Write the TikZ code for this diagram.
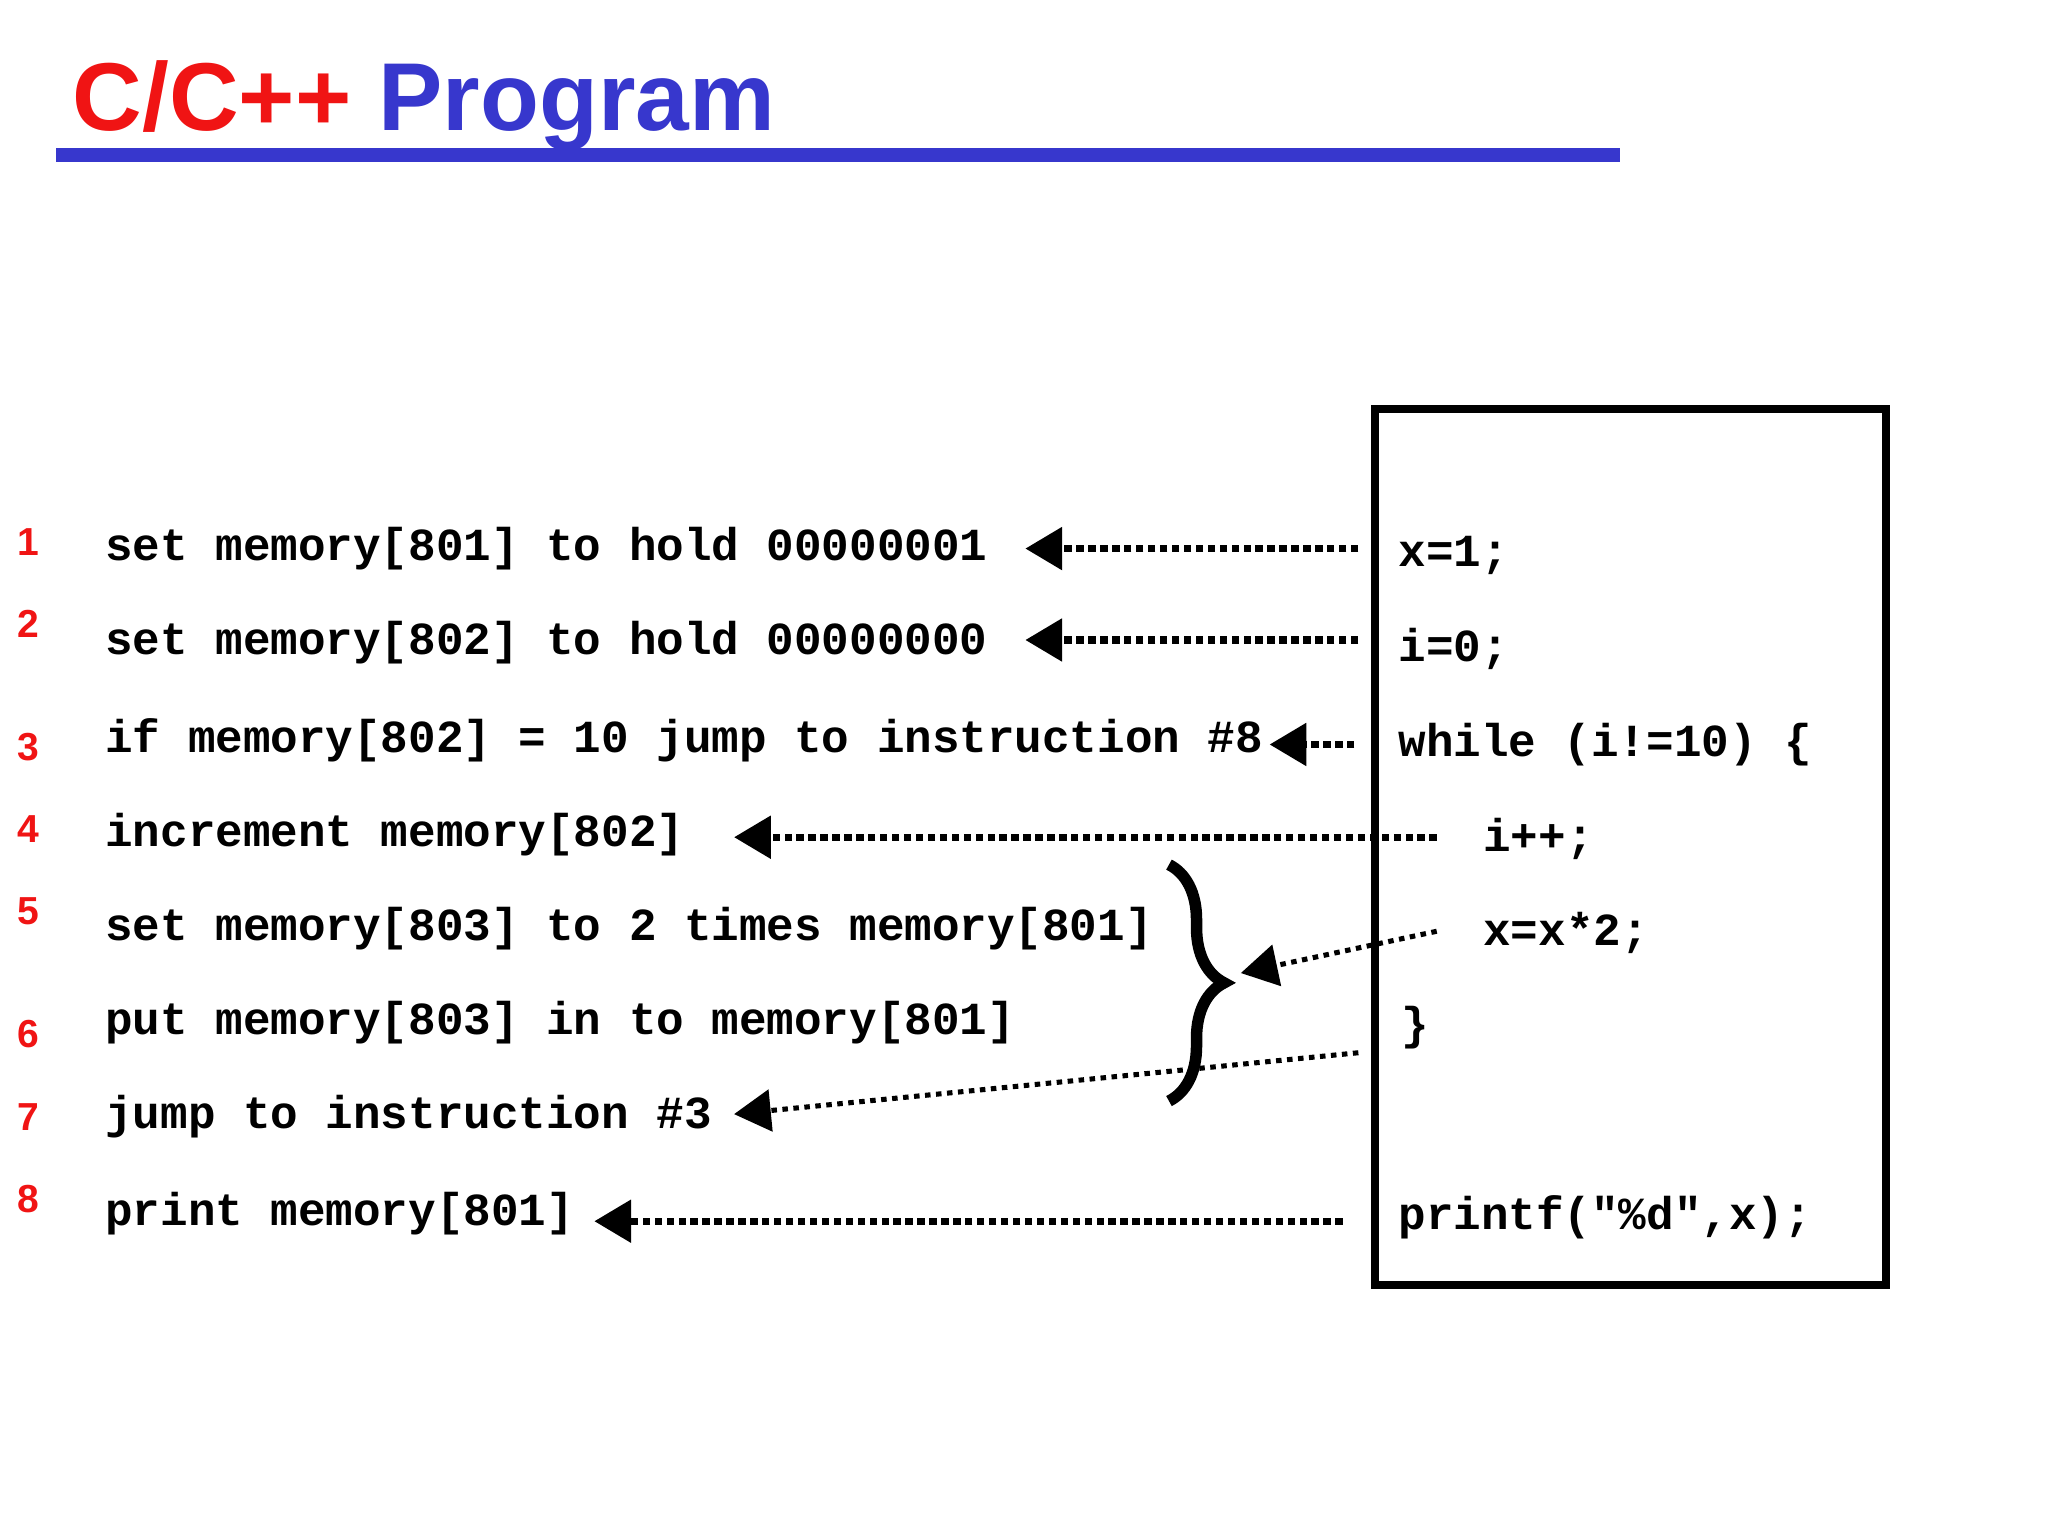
\documentclass[tikz,border=0pt]{standalone}
\usepackage{fontspec}
\setmainfont{Liberation Sans}
\setmonofont{Liberation Mono}
\usetikzlibrary{arrows.meta,decorations.pathreplacing}
\definecolor{titlered}{RGB}{240,20,20}
\definecolor{titleblue}{RGB}{55,55,205}
\tikzset{
  code/.style={anchor=west,inner sep=0pt,font=\fontsize{10pt}{11pt}\ttfamily\bfseries},
  num/.style={inner sep=0pt,text=titlered,font=\fontsize{8.5pt}{9pt}\rmfamily\bfseries},
  dotarrow/.style={line width=1.6pt,dash pattern=on 1.6pt off 1pt,-{Triangle[length=8pt,width=9pt]}},
  thinarrow/.style={line width=1.1pt,dash pattern=on 1.2pt off 1.2pt,-{Triangle[length=8pt,width=9pt]}}
}
\begin{document}
\begin{tikzpicture}[x=0.01cm,y=-0.01cm]
\useasboundingbox (0,0) rectangle (1568,1176);
% Title
\node[anchor=base west,inner sep=0pt,font=\fontsize{21pt}{25pt}\bfseries] (title) at (55,100)
  {\textcolor{titlered}{C/C++} \textcolor{titleblue}{Program}};
\fill[titleblue] (43,113) rectangle (1240,124);

% Source box
\draw[line width=1.8pt] (1053,313) rectangle (1444,984);

% Machine steps
\foreach \n/\y/\ny/\t in {1/420/415/{set memory[801] to hold 00000001},
    2/492/478/{set memory[802] to hold 00000000},
    3/567/572/{if memory[802] = 10 jump to instruction \#8},
    4/639/635/{increment memory[802]},
    5/711/698/{set memory[803] to 2 times memory[801]},
    6/783/792/{put memory[803] in to memory[801]},
    7/855/855/{jump to instruction \#3},
    8/929/918/{print memory[801]}}{
  \node[num] (n\n) at (22,\ny) {\n};
  \node[code] (s\n) at (80,\y) {\t};
}

% C source lines
\node[code] (c1) at (1070,425) {x=1;};
\node[code] (c2) at (1070,497) {i=0;};
\node[code] (c3) at (1070,570) {while (i!=10) \{};
\node[code] (c4) at (1135,642) {i++;};
\node[code] (c5) at (1135,714) {x=x*2;};
\node[code] (c6) at (1072,787) {\}};
\node[code] (c7) at (1070,932) {printf("\%d",x);};

% Brace
\draw[line width=2.5pt,decorate,decoration={brace,amplitude=12pt}] (895,662) -- (895,843);

% Arrow ends
\coordinate (t1) at (785,420);
\coordinate (t2) at (785,490);
\coordinate (t3) at (972,570);
\coordinate (t4) at (562,641);
\coordinate (t5) at (950,745);
\coordinate (t7) at (562,853);
\coordinate (t8) at (455,935);

% Arrows
\draw[dotarrow] (1040,420) -- (t1);
\draw[dotarrow] (1040,490) -- (t2);
\draw[dotarrow] (1037,570) -- (t3);
\draw[dotarrow] (1100,641) -- (t4);
\draw[thinarrow] (1100,713) -- (t5);
\draw[thinarrow] (1040,806) -- (t7);
\draw[dotarrow] (1028,935) -- (t8);
\end{tikzpicture}
\end{document}
